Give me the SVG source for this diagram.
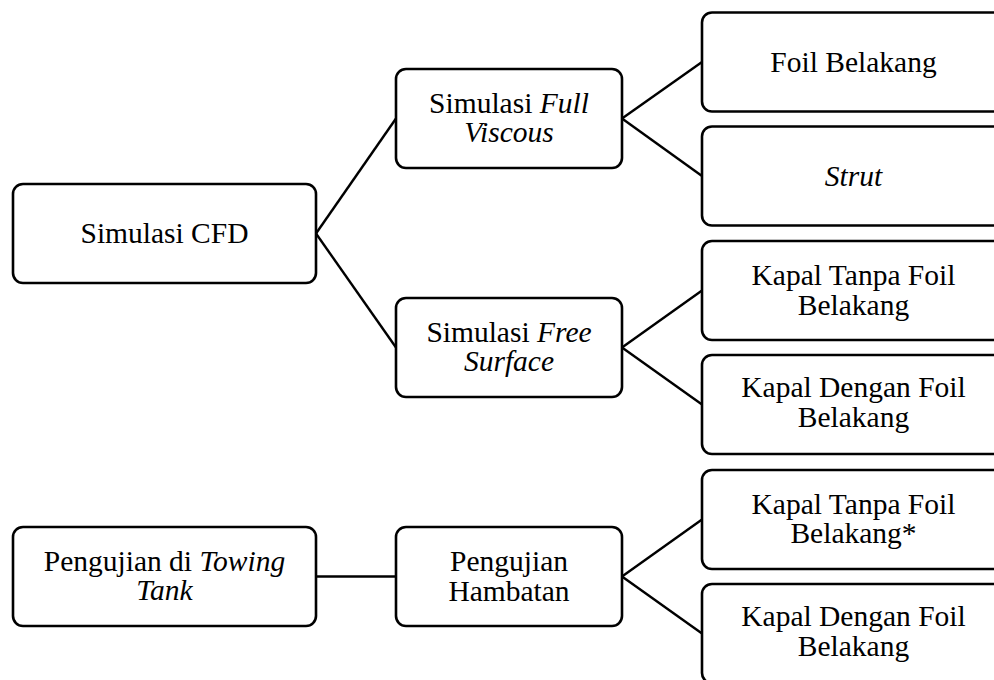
<svg xmlns="http://www.w3.org/2000/svg" width="994" height="680" viewBox="0 0 994 680">
  <style>
    .box { fill: #ffffff; stroke: #000000; stroke-width: 2.6; }
    .link { stroke: #000000; stroke-width: 2.4; fill: none; }
    .lbl { font-family: "Liberation Serif", "Times New Roman", serif; font-size: 29.5px; fill: #000000; text-anchor: middle; }
    .it { font-style: italic; }
  </style>
  <rect width="994" height="680" fill="#ffffff"/>

  <!-- connectors -->
  <g id="connectors">
    <line class="link" x1="316" y1="233.5" x2="396" y2="118.5"/>
    <line class="link" x1="316" y1="233.5" x2="396" y2="347.5"/>
    <line class="link" x1="622" y1="118.5" x2="702" y2="62"/>
    <line class="link" x1="622" y1="118.5" x2="702" y2="176"/>
    <line class="link" x1="622" y1="347.5" x2="702" y2="290.5"/>
    <line class="link" x1="622" y1="347.5" x2="702" y2="404.5"/>
    <line class="link" x1="316" y1="576.5" x2="396" y2="576.5"/>
    <line class="link" x1="622" y1="576.5" x2="702" y2="519.5"/>
    <line class="link" x1="622" y1="576.5" x2="702" y2="633.5"/>
  </g>

  <!-- root: CFD -->
  <g id="simulasi-cfd">
    <rect class="box" x="13" y="184" width="303" height="99" rx="10"/>
    <text class="lbl" x="164.5" y="243">Simulasi CFD</text>
  </g>

  <g id="full-viscous">
    <rect class="box" x="396" y="69" width="226" height="99" rx="10"/>
    <text class="lbl" x="509" y="113">Simulasi <tspan class="it">Full</tspan><tspan class="it" x="509" dy="29">Viscous</tspan></text>
  </g>

  <g id="free-surface">
    <rect class="box" x="396" y="298" width="226" height="99" rx="10"/>
    <text class="lbl" x="509" y="342">Simulasi <tspan class="it">Free</tspan><tspan class="it" x="509" dy="29">Surface</tspan></text>
  </g>

  <g id="foil-belakang">
    <rect class="box" x="702" y="12.5" width="303" height="99" rx="10"/>
    <text class="lbl" x="853.5" y="71.5">Foil Belakang</text>
  </g>

  <g id="strut">
    <rect class="box" x="702" y="126.5" width="303" height="99" rx="10"/>
    <text class="lbl it" x="853.5" y="185.5">Strut</text>
  </g>

  <g id="cfd-tanpa-foil">
    <rect class="box" x="702" y="241" width="303" height="99" rx="10"/>
    <text class="lbl" x="853.5" y="285">Kapal Tanpa Foil<tspan x="853.5" dy="30">Belakang</tspan></text>
  </g>

  <g id="cfd-dengan-foil">
    <rect class="box" x="702" y="355" width="303" height="99" rx="10"/>
    <text class="lbl" x="853.5" y="397">Kapal Dengan Foil<tspan x="853.5" dy="30">Belakang</tspan></text>
  </g>

  <!-- root: towing tank -->
  <g id="towing-tank">
    <rect class="box" x="13" y="527" width="303" height="99" rx="10"/>
    <text class="lbl" x="164.5" y="570.5">Pengujian di <tspan class="it">Towing</tspan><tspan class="it" x="164.5" dy="29.5">Tank</tspan></text>
  </g>

  <g id="pengujian-hambatan">
    <rect class="box" x="396" y="527" width="226" height="99" rx="10"/>
    <text class="lbl" x="509" y="571">Pengujian<tspan x="509" dy="29.5">Hambatan</tspan></text>
  </g>

  <g id="uji-tanpa-foil">
    <rect class="box" x="702" y="470" width="303" height="99" rx="10"/>
    <text class="lbl" x="853.5" y="513.5">Kapal Tanpa Foil<tspan x="853.5" dy="29.5">Belakang*</tspan></text>
  </g>

  <g id="uji-dengan-foil">
    <rect class="box" x="702" y="584" width="303" height="99" rx="10"/>
    <text class="lbl" x="853.5" y="626">Kapal Dengan Foil<tspan x="853.5" dy="30">Belakang</tspan></text>
  </g>
</svg>
